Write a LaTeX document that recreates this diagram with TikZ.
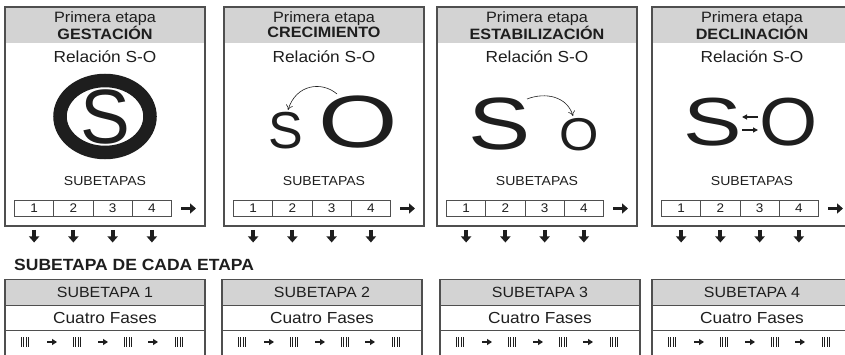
\documentclass[tikz,border=0pt]{standalone}
\usepackage{fontspec}
\setmainfont{Liberation Sans}[FakeStretch=1.08]
\newfontfamily\bigfont{Liberation Sans}
\usetikzlibrary{arrows.meta}
\definecolor{bord}{HTML}{4F4F4F}
\definecolor{hdr}{HTML}{D3D3D3}
\definecolor{ink}{HTML}{1E1E1E}
\begin{document}
\begin{tikzpicture}[x=1pt,y=-1pt,
  frame/.style={draw=bord, line width=1.5pt},
  sep/.style={draw=bord, line width=0.8pt},
  txt/.style={inner sep=0pt, text=ink},
  cell/.style={draw=bord, line width=0.9pt, minimum width=39.25pt, minimum height=16pt, inner sep=0pt, text=ink, font=\fontsize{12.5}{12.5}\selectfont},
  blockarr/.style={ink, line width=3.8pt, -{Triangle[width=10pt,length=6pt]}},
  smallarr/.style={ink, line width=2.4pt, -{Triangle[width=6pt,length=5pt]}},
  thinarr/.style={ink, line width=0.6pt, -{To[length=5pt,width=7pt]}},
  midarr/.style={ink, line width=1.2pt, -{Triangle[width=5pt,length=5pt]}},
  tally/.style={ink, line width=0.9pt},
  big/.style={inner sep=0pt, text=ink}
]
\useasboundingbox (0,0) rectangle (845,355);

% ---------- top stage boxes ----------
\foreach \x/\nm/\i in {5/GESTACIÓN/1,224/CRECIMIENTO/2,437/ESTABILIZACIÓN/3,652/DECLINACIÓN/4}{
  \fill[hdr] (\x,7) rectangle ++(200,36);
  \draw[frame] (\x,7) rectangle ++(200,219);
  \node[txt, font=\fontsize{15}{15}\selectfont] (pe\i) at (\x+100,19) {Primera etapa};
  \node[txt, font=\fontsize{15}{15}\selectfont\bfseries] (nm\i) at (\x+100,32.5) {\nm};
  \node[txt, font=\fontsize{16}{16}\selectfont] (rel\i) at (\x+100,57) {Relación S-O};
  \node[txt, font=\fontsize{13}{13}\selectfont] (sub\i) at (\x+100,181) {SUBETAPAS};
  \foreach \k in {1,...,4}{
    \node[cell] (c\i\k) at (\x+9.5+39.25*\k-19.625,208.5) {\k};
    \coordinate (da\i\k) at (\x+9.5+39.25*\k-19.625,230);
    \coordinate (db\i\k) at (\x+9.5+39.25*\k-19.625,242.5);
    \draw[blockarr] (da\i\k) -- (db\i\k);
  }
  \coordinate (ra\i) at (\x+176,208.5);
  \coordinate (rb\i) at (\x+191,208.5);
  \draw[blockarr] (ra\i) -- (rb\i);
}

% ---------- box 1: S inside ring ----------
\draw[ink, line width=13.5pt] (105,116.5) ellipse [x radius=45pt, y radius=36pt];
\node[big, font=\bigfont\fontsize{77}{77}\selectfont] (s1) at (105,117) {\scalebox{0.97}[1]{S}};

% ---------- box 2: small S, big O ----------
\node[big, font=\bigfont\fontsize{52}{52}\selectfont] (s2) at (286,130.5) {S};
\node[big, font=\bigfont\fontsize{74}{74}\selectfont] (o2) at (358,122.5) {\scalebox{1.38}[1]{O}};
\coordinate (a2s) at (337,94);
\coordinate (a2e) at (288,110);
\draw[thinarr] (a2s) .. controls (322,81) and (296,84) .. (a2e);

% ---------- box 3: big S, small O ----------
\node[big, font=\bigfont\fontsize{74}{74}\selectfont] (s3) at (500,124.5) {\scalebox{1.26}[1]{S}};
\node[big, font=\bigfont\fontsize{46}{46}\selectfont] (o3) at (579.5,135) {\scalebox{1.1}[1]{O}};
\coordinate (a3s) at (527,99);
\coordinate (a3e) at (573,116);
\draw[thinarr] (a3s) .. controls (545,92) and (567,96) .. (a3e);

% ---------- box 4: S <-> O ----------
\node[big, font=\bigfont\fontsize{68}{68}\selectfont] (s4) at (712.5,122) {\scalebox{1.29}[1]{S}};
\node[big, font=\bigfont\fontsize{68}{68}\selectfont] (o4) at (789,122) {\scalebox{1.1}[1]{O}};
\coordinate (a4a) at (758,117);
\coordinate (a4b) at (742,117);
\coordinate (a4c) at (742,130);
\coordinate (a4d) at (758,130);
\draw[midarr] (a4a) -- (a4b);
\draw[midarr] (a4c) -- (a4d);

% ---------- bottom ----------
\node[txt, anchor=west, font=\fontsize{16.2}{16.2}\selectfont\bfseries] (title) at (14,265) {SUBETAPA DE CADA ETAPA};

\foreach \x/\i in {5/1,222/2,440/3,652/4}{
  \fill[hdr] (\x,279.5) rectangle ++(200,25.5);
  \draw[frame] (\x,279.5) rectangle ++(200,85);
  \draw[sep] (\x,305) -- ++(200,0);
  \draw[sep] (\x,330) -- ++(200,0);
  \node[txt, font=\fontsize{14.8}{14.8}\selectfont] (st\i) at (\x+100,292.5) {SUBETAPA \i};
  \node[txt, font=\fontsize{16}{16}\selectfont] (cf\i) at (\x+100,318) {Cuatro Fases};
  \foreach \t in {20,72,123,174}{
    \foreach \d in {-3.6,-1.2,1.2,3.6}{
      \draw[tally] (\x+\t+\d,337) -- (\x+\t+\d,347);
    }
  }
  \foreach \a/\j in {47/1,98/2,148/3}{
    \coordinate (ta\i\j) at (\x+\a-5,342);
    \coordinate (tb\i\j) at (\x+\a+5,342);
    \draw[smallarr] (ta\i\j) -- (tb\i\j);
  }
}
\end{tikzpicture}
\end{document}
